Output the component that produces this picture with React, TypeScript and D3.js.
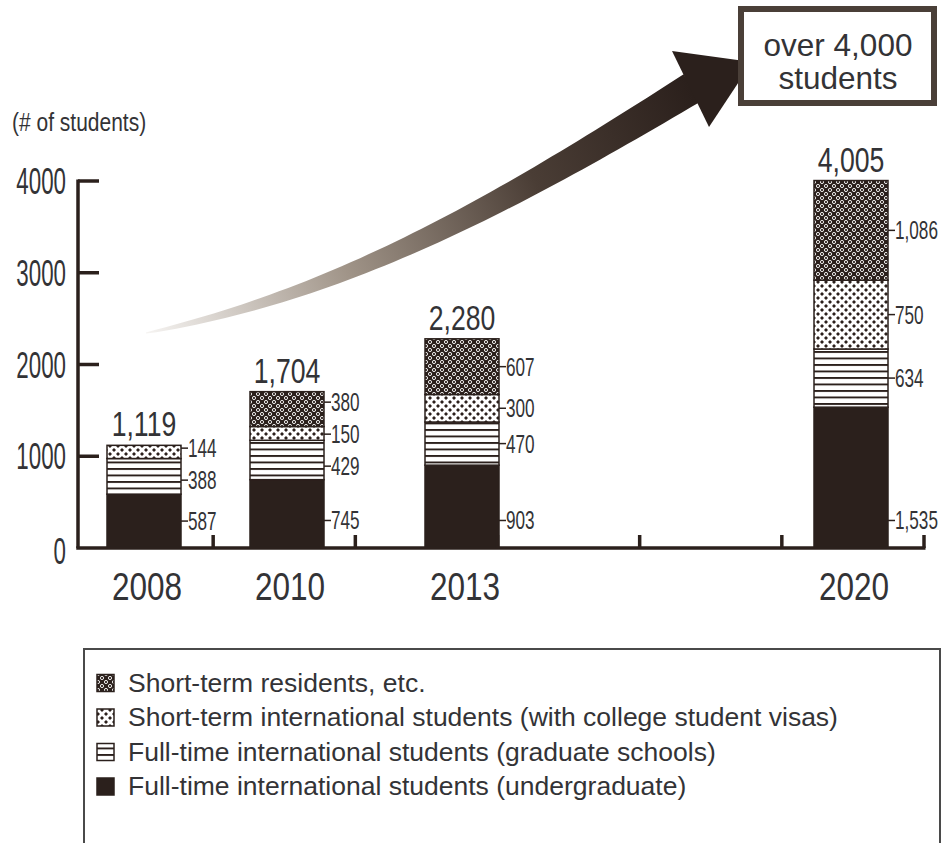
import React from 'react';
import * as d3 from 'd3';

// values
const years = [2008, 2010, 2013, 2020];
const undergrad = [587, 745, 903, 1535];
const graduate = [388, 429, 470, 634];
const shortTermStudents = [144, 150, 300, 750];
const shortTermResidents = [0, 380, 607, 1086];
const totals = [1119, 1704, 2280, 4005];
const yTicks = [0, 1000, 2000, 3000, 4000];

const seriesKeys = ['undergrad', 'graduate', 'shortStudents', 'shortResidents'];
const legendLabels = [
  'Short-term residents, etc.',
  'Short-term international students (with college student visas)',
  'Full-time international students (graduate schools)',
  'Full-time international students (undergraduate)',
];
const legendKeys = ['shortResidents', 'shortStudents', 'graduate', 'undergrad'];

const DARK = '#2b201c';
const TEXT = '#333336';
const fills: Record<string, string> = {
  undergrad: DARK,
  graduate: 'url(#pGrad)',
  shortStudents: 'url(#pShort)',
  shortResidents: 'url(#pResid)',
};

const W = 947;
const H = 843;

const rows = years.map((y, i) => ({
  year: y,
  undergrad: undergrad[i],
  graduate: graduate[i],
  shortStudents: shortTermStudents[i],
  shortResidents: shortTermResidents[i],
}));

const stacked = d3.stack<any>().keys(seriesKeys)(rows);

const yScale = d3.scaleLinear().domain([0, 4000]).range([548, 181]);
// bar centres are spaced unevenly along the axis
const xScale = d3.scaleLinear().domain([2008, 2010, 2013, 2020]).range([144, 287, 462, 851]);
const slotScale = d3.scaleLinear().domain([0, 6]).range([71, 924]);
const barW = 74;
const axisX = 78;
const font = "'Liberation Sans', Arial, sans-serif";

// tapered arrow body along a cubic curve
function arrowPath() {
  const p0 = [146, 333], p1 = [346, 293], p2 = [510, 200], p3 = [692, 88];
  const pt = (t: number) => {
    const u = 1 - t;
    return [
      u * u * u * p0[0] + 3 * u * u * t * p1[0] + 3 * u * t * t * p2[0] + t * t * t * p3[0],
      u * u * u * p0[1] + 3 * u * u * t * p1[1] + 3 * u * t * t * p2[1] + t * t * t * p3[1],
    ];
  };
  const upper: number[][] = [];
  const lower: number[][] = [];
  const n = 60;
  for (let i = 0; i <= n; i++) {
    const t = i / n;
    const a = pt(Math.max(0, t - 0.001));
    const b = pt(Math.min(1, t + 0.001));
    const dx = b[0] - a[0], dy = b[1] - a[1];
    const len = Math.hypot(dx, dy);
    const nx = -dy / len, ny = dx / len;
    const w = (1 + 31 * Math.pow(t, 0.75)) / 2;
    const c = pt(t);
    upper.push([c[0] - nx * w, c[1] - ny * w]);
    lower.push([c[0] + nx * w, c[1] + ny * w]);
  }
  return d3.line()(upper.concat(lower.reverse())) + 'Z';
}

// push segment labels apart so they keep a minimum gap
function spread(ys: number[], gap: number) {
  const out = ys.slice();
  for (let it = 0; it < 60; it++) {
    for (let i = 0; i < out.length - 1; i++) {
      const d = out[i + 1] - out[i];
      if (d < gap) {
        const m = (gap - d) / 2;
        out[i] -= m;
        out[i + 1] += m;
      }
    }
  }
  return out;
}

const CText: React.FC<{ x: number; y: number; size: number; sx: number; anchor?: string; children: any }> = ({ x, y, size, sx, anchor = 'start', children }) => (
  <g transform={`translate(${x},${y}) scale(${sx},1)`}>
    <text x={0} y={0} fontSize={size} fontFamily={font} fill={TEXT} textAnchor={anchor}>
      {children}
    </text>
  </g>
);

const App: React.FC = () => {
  const labelFmt = d3.format(',');

  // label positions per bar (top to bottom)
  const segLabels = years.map((yr, i) => {
    const items = stacked
      .map((s, si) => {
        const d = s[i];
        const v = d[1] - d[0];
        const at = si === 0 ? Math.min((d[0] + d[1]) / 2, 300) : (d[0] + d[1]) / 2;
        return { v, y: yScale(at) };
      })
      .filter(o => o.v > 0)
      .sort((a, b) => a.y - b.y);
    const ys = spread(items.map(o => o.y), 32);
    return items.map((o, k) => ({ v: o.v, y: ys[k], bx: xScale(yr) + barW / 2 }));
  });

  return (
    <svg width={W} height={H} style={{ position: 'absolute', left: 0, top: 0, background: '#fff' }}>
      <defs>
        <pattern id="pResid" patternUnits="userSpaceOnUse" width={8} height={8}>
          <rect width={8} height={8} fill={DARK} />
          <circle cx={2} cy={2} r={1.6} fill="none" stroke="#fff" strokeWidth={0.9} />
          <circle cx={6} cy={6} r={1.6} fill="none" stroke="#fff" strokeWidth={0.9} />
        </pattern>
        <pattern id="pShort" patternUnits="userSpaceOnUse" width={8} height={8}>
          <rect width={8} height={8} fill="#fff" />
          <path d="M2,0L4,2L2,4L0,2Z" fill={DARK} />
          <path d="M6,4L8,6L6,8L4,6Z" fill={DARK} />
        </pattern>
        <pattern id="pGrad" patternUnits="userSpaceOnUse" width={8} height={6.5}>
          <rect width={8} height={6.5} fill="#fff" />
          <rect y={0} width={8} height={1.9} fill={DARK} />
        </pattern>
        <linearGradient id="arrowGrad" gradientUnits="userSpaceOnUse" x1={146} y1={333} x2={690} y2={89}>
          <stop offset="0" stopColor="#f6f4f2" />
          <stop offset="0.35" stopColor="#a09488" />
          <stop offset="0.7" stopColor="#4a3d35" />
          <stop offset="1" stopColor={DARK} />
        </linearGradient>
      </defs>

      {/* growth arrow */}
      <path d={arrowPath()} fill="url(#arrowGrad)" />
      <path d="M672,51L752,62L709,127Z" fill={DARK} />

      {/* callout box */}
      <rect x={741} y={9} width={193} height={94} fill="#fff" stroke="#4a3f38" strokeWidth={6} />
      <text x={838} y={56} textAnchor="middle" fontSize={31.5} fontFamily={font} fill={TEXT}>over 4,000</text>
      <text x={838} y={89} textAnchor="middle" fontSize={31.5} fontFamily={font} fill={TEXT}>students</text>

      {/* axis title */}
      <CText x={12} y={131} size={25} sx={0.84}>(# of students)</CText>

      {/* y axis */}
      <line x1={axisX} x2={axisX} y1={yScale(4000) - 1.5} y2={yScale(0)} stroke={DARK} strokeWidth={3.5} />
      {yTicks.filter(t => t > 0).map(t => (
        <line key={t} x1={axisX} x2={99} y1={yScale(t)} y2={yScale(t)} stroke={DARK} strokeWidth={3.5} />
      ))}
      {yTicks.map(t => (
        <CText key={t} x={66} y={yScale(t) + (t === 0 ? 16 : 13)} size={36} sx={0.62} anchor="end">{t}</CText>
      ))}

      {/* bars */}
      {stacked.map(s => (
        <g key={s.key}>
          {s.map((d, i) => {
            const v = d[1] - d[0];
            if (v <= 0) return null;
            return (
              <rect key={i} x={xScale(years[i]) - barW / 2} y={yScale(d[1])} width={barW} height={yScale(d[0]) - yScale(d[1])}
                fill={fills[s.key]} stroke={DARK} strokeWidth={1.5} />
            );
          })}
        </g>
      ))}

      {/* segment labels */}
      {segLabels.map((list, i) => (
        <g key={'l' + i}>
          {list.map((o, k) => (
            <g key={k}>
              <line x1={o.bx} x2={o.bx + 7} y1={o.y} y2={o.y} stroke={DARK} strokeWidth={1.5} />
              <CText x={o.bx + 7} y={o.y + 9} size={26} sx={0.66}>{labelFmt(o.v)}</CText>
            </g>
          ))}
        </g>
      ))}

      {/* totals */}
      {totals.map((t, i) => (
        <CText key={t} x={xScale(years[i])} y={yScale(t) - 9} size={36} sx={0.74} anchor="middle">{labelFmt(t)}</CText>
      ))}

      {/* baseline */}
      <line x1={axisX - 1.75} x2={slotScale(6) + 1.5} y1={yScale(0)} y2={yScale(0)} stroke={DARK} strokeWidth={3.5} />
      {d3.range(1, 7).map(i => (
        <line key={i} x1={slotScale(i)} x2={slotScale(i)} y1={yScale(0) - 13} y2={yScale(0)} stroke={DARK} strokeWidth={3.5} />
      ))}
      {years.map(y => (
        <CText key={y} x={xScale(y) + 3} y={600} size={38} sx={0.83} anchor="middle">{y}</CText>
      ))}

      {/* legend */}
      <rect x={84} y={649} width={856} height={220} fill="none" stroke="#4a4a4a" strokeWidth={2} />
      {legendKeys.map((k, i) => {
        const cy = 683 + i * 34.5;
        return (
          <g key={k}>
            <rect x={97} y={cy - 8.5} width={17} height={17} fill={fills[k]} stroke={DARK} strokeWidth={1.5} />
            <text x={128} y={cy + 8.5} fontSize={26.5} fontFamily={font} fill={TEXT}>{legendLabels[i]}</text>
          </g>
        );
      })}
    </svg>
  );
};

export default App;
